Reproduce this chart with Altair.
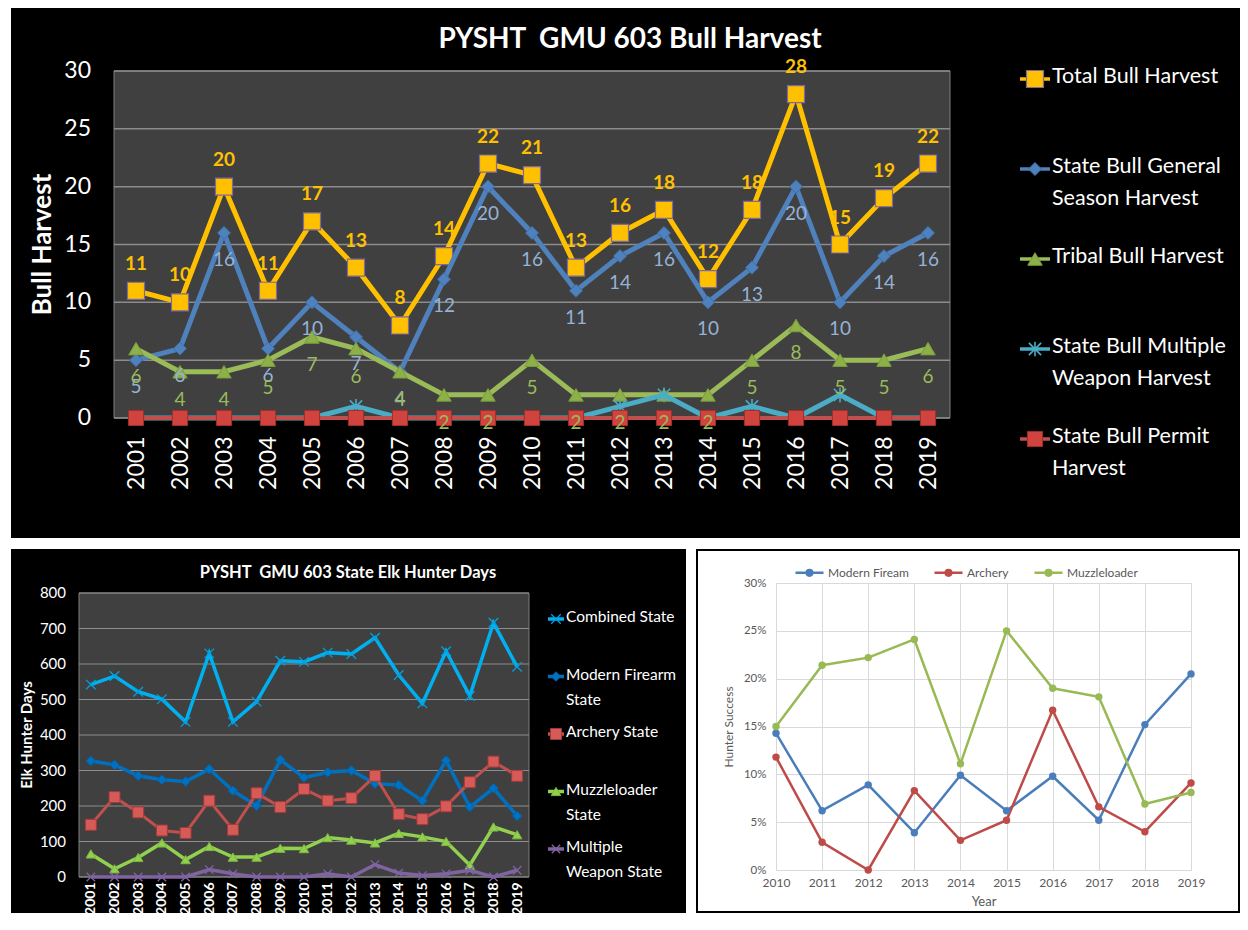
import altair as alt
import pandas as pd

FONT = "Lato"

# ---------------- data: top chart (Bull Harvest) ----------------
years = [2001, 2002, 2003, 2004, 2005, 2006, 2007, 2008, 2009, 2010,
         2011, 2012, 2013, 2014, 2015, 2016, 2017, 2018, 2019]
harvest_series = ["Total Bull Harvest", "State Bull General Season Harvest",
                  "Tribal Bull Harvest", "State Bull Multiple Weapon Harvest",
                  "State Bull Permit Harvest"]
harvest_legend_labels = ["Total Bull Harvest", "State Bull General\nSeason Harvest",
                         "Tribal Bull Harvest", "State Bull Multiple\nWeapon Harvest",
                         "State Bull Permit\nHarvest"]
total_bull = [11, 10, 20, 11, 17, 13, 8, 14, 22, 21, 13, 16, 18, 12, 18, 28, 15, 19, 22]
general_bull = [5, 6, 16, 6, 10, 7, 4, 12, 20, 16, 11, 14, 16, 10, 13, 20, 10, 14, 16]
tribal_bull = [6, 4, 4, 5, 7, 6, 4, 2, 2, 5, 2, 2, 2, 2, 5, 8, 5, 5, 6]
multiple_bull = [0, 0, 0, 0, 0, 1, 0, 0, 0, 0, 0, 1, 2, 0, 1, 0, 2, 0, 0]
permit_bull = [0, 0, 0, 0, 0, 0, 0, 0, 0, 0, 0, 0, 0, 0, 0, 0, 0, 0, 0]
harvest_ticks = [0, 5, 10, 15, 20, 25, 30]

# ---------------- data: bottom-left chart (Elk Hunter Days) ----------------
days_series = ["Combined State", "Modern Firearm State", "Archery State",
               "Muzzleloader State", "Multiple Weapon State"]
days_legend_labels = ["Combined State", "Modern Firearm\nState", "Archery State",
                      "Muzzleloader\nState", "Multiple\nWeapon State"]
combined_days = [542, 566, 522, 501, 437, 630, 437, 494, 609, 606, 632, 628, 674, 569, 489, 636, 510, 716, 592]
modern_days = [327, 316, 285, 274, 269, 304, 243, 201, 330, 280, 295, 300, 263, 259, 215, 328, 197, 250, 172]
archery_days = [147, 225, 182, 131, 124, 215, 133, 236, 197, 248, 215, 222, 285, 177, 163, 199, 267, 325, 285]
muzzle_days = [65, 23, 55, 96, 49, 86, 56, 56, 81, 80, 111, 104, 96, 123, 113, 100, 33, 141, 119]
multiple_days = [0, 0, 0, 0, 0, 21, 9, 0, 0, 0, 9, 0, 35, 11, 4, 9, 19, 0, 19]
days_ticks = [0, 100, 200, 300, 400, 500, 600, 700, 800]

# ---------------- data: bottom-right chart (Hunter Success) ----------------
success_years = [2010, 2011, 2012, 2013, 2014, 2015, 2016, 2017, 2018, 2019]
success_series = ["Modern Fiream", "Archery", "Muzzleloader"]
success_modern = [14.3, 6.2, 8.9, 3.9, 9.9, 6.2, 9.8, 5.2, 15.2, 20.5]
success_archery = [11.8, 2.9, 0.0, 8.3, 3.1, 5.2, 16.7, 6.6, 4.0, 9.1]
success_muzzle = [15.0, 21.4, 22.2, 24.1, 11.1, 25.0, 19.0, 18.1, 6.9, 8.1]
success_ticks = [0, 5, 10, 15, 20, 25, 30]

# ---------------- styles ----------------
ASTER = "M-1,-1L1,1M-1,1L1,-1M0,-1.2L0,1.2"
XMARK = "M-1,-1L1,1M-1,1L1,-1"
harvest_styles = [
    dict(line="#FFC000", lw=5, shape="square", size=290, fill="#FFC000", mstroke="#7F6A9A", msw=1.2),
    dict(line="#4F81BD", lw=5, shape="diamond", size=170, fill="#4F81BD", mstroke="#3C6DA8", msw=1),
    dict(line="#9BBB59", lw=5, shape="triangle-up", size=210, fill="#8DB048", mstroke="#7A9C3C", msw=1),
    dict(line="#4BACC6", lw=5, shape=ASTER, size=150, fill=None, mstroke="#4BACC6", msw=1.6),
    dict(line="#C0504D", lw=4, shape="square", size=230, fill="#D0433F", mstroke="#9E2F2C", msw=1),
]
days_styles = [
    dict(line="#00B0F0", lw=3.5, shape=XMARK, size=90, fill=None, mstroke="#00A0E0", msw=1.3),
    dict(line="#0070C0", lw=3.5, shape="diamond", size=90, fill="#0070C0", mstroke="#0062AA", msw=1),
    dict(line="#C0504D", lw=3, shape="square", size=120, fill="#D65B58", mstroke="#A23B39", msw=1),
    dict(line="#92D050", lw=3.5, shape="triangle-up", size=90, fill="#92D050", mstroke="#7DB83D", msw=1),
    dict(line="#8064A2", lw=3.5, shape=XMARK, size=70, fill=None, mstroke="#8064A2", msw=1.3),
]
success_colors = ["#4A7EBB", "#BE4B48", "#98B954"]

one = pd.DataFrame({"k": [0]})


def long_df(xs, names, arrays):
    rows = []
    for name, arr in zip(names, arrays):
        for x, v in zip(xs, arr):
            rows.append({"year": x, "series": name, "value": v})
    return pd.DataFrame(rows)


def marker_kw(st):
    kw = dict(shape=st["shape"], size=st["size"], opacity=1, strokeWidth=st["msw"])
    if st["fill"]:
        kw.update(filled=True, fill=st["fill"], stroke=st["mstroke"])
    else:
        kw.update(filled=False, stroke=st["mstroke"])
    return kw


def box(color, x0, x1, y0, y1, **kw):
    return alt.Chart(one).mark_rect(color=color, **kw).encode(
        x=alt.value(x0), x2=alt.value(x1), y=alt.value(y0), y2=alt.value(y1))


def free_text(txt, x, y, size, weight="bold", angle=0):
    return alt.Chart(one).mark_text(font=FONT, fontSize=size, fontWeight=weight, color="white",
                                    align="center", baseline="middle", angle=angle).encode(
        x=alt.value(x), y=alt.value(y), text=alt.value(txt))


def y_labels(ticks, scale, x, size):
    return alt.Chart(pd.DataFrame({"tick": ticks})).mark_text(
        font=FONT, fontSize=size, color="white", align="right", baseline="middle").encode(
        x=alt.value(x), y=alt.Y("tick:Q", scale=scale, axis=None), text="tick:Q")


def grid_rules(ticks, scale, x0, x1, color, width):
    return alt.Chart(pd.DataFrame({"tick": ticks})).mark_rule(color=color, strokeWidth=width).encode(
        x=alt.value(x0), x2=alt.value(x1), y=alt.Y("tick:Q", scale=scale, axis=None))


def manual_legend(labels, styles, y0, step, x0, x1, tx, fsize, lh, dy):
    layers = []
    for i, (lab, st) in enumerate(zip(labels, styles)):
        yy = y0 + i * step
        layers.append(alt.Chart(one).mark_rule(color=st["line"], strokeWidth=3.5).encode(
            x=alt.value(x0), x2=alt.value(x1), y=alt.value(yy)))
        layers.append(alt.Chart(one).mark_point(**marker_kw(st)).encode(
            x=alt.value((x0 + x1) / 2), y=alt.value(yy)))
        layers.append(alt.Chart(one).mark_text(font=FONT, fontSize=fsize, color="white", align="left",
                                               baseline="top", dy=dy, lineBreak="\n", lineHeight=lh).encode(
            x=alt.value(tx), y=alt.value(yy), text=alt.value(lab)))
    return layers


# ================= TOP PANEL =================
# group origin shared with the bottom-left panel; plot area spans x 35..871
W1, H1 = 871, 347
PX0 = 35
df1 = long_df(years, harvest_series, [total_bull, general_bull, tribal_bull, multiple_bull, permit_bull])
x1 = alt.X("year:O", scale=alt.Scale(type="point", padding=0.5, range=[PX0, W1]),
           axis=alt.Axis(title=None, labelAngle=270, labelColor="white", labelFont=FONT, labelFontSize=23,
                         labelPadding=18, ticks=False, tickSize=0, domain=False, grid=False, zindex=1))
ys1 = alt.Scale(domain=[0, 30], nice=False, zero=True)
y1 = alt.Y("value:Q", scale=ys1, axis=None)

top_layers = [box("black", -68, 1161, -63, H1 + 120),
              free_text("PYSHT\u00a0 GMU 603 Bull Harvest", 551, -31, 28),
              box("#404040", PX0, W1, 0, H1, stroke="#7f7f7f", strokeWidth=1),
              grid_rules(harvest_ticks, ys1, PX0, W1, "#8c8c8c", 1.5),
              y_labels(harvest_ticks, ys1, PX0 - 23, 23),
              free_text("Bull Harvest", -36, H1 / 2, 26, angle=270)]
for name, st in zip(harvest_series, harvest_styles):
    base = alt.Chart(df1).transform_filter(alt.datum.series == name)
    top_layers.append(base.mark_line(color=st["line"], strokeWidth=st["lw"]).encode(x=x1, y=y1))
    top_layers.append(base.mark_point(**marker_kw(st)).encode(x=x1, y=y1))
label_specs = [("Total Bull Harvest", "#FFC000", -27, "bold"),
               ("State Bull General Season Harvest", "#95B3D7", 27, "normal"),
               ("Tribal Bull Harvest", "#9BBB59", 28, "normal")]
for name, c, dy, w in label_specs:
    top_layers.append(alt.Chart(df1).transform_filter(alt.datum.series == name).mark_text(
        font=FONT, fontSize=19, fontWeight=w, color=c, dy=dy, align="center", baseline="middle")
        .encode(x=x1, y=y1, text="value:Q"))
top_layers += manual_legend(harvest_legend_labels, harvest_styles, 8, 90, 941, 971, 973, 21.5, 32, -13)
top = alt.layer(*top_layers).properties(width=W1, height=H1)

# ================= BOTTOM-LEFT PANEL =================
# group origin shared with the bottom-right panel; plot area spans y 10..294
W2, H2 = 450, 294
PY0 = 10
df2 = long_df(years, days_series, [combined_days, modern_days, archery_days, muzzle_days, multiple_days])
x2 = alt.X("year:O", scale=alt.Scale(type="point", padding=0.5),
           axis=alt.Axis(title=None, labelAngle=270, labelColor="white", labelFont=FONT, labelFontSize=14,
                         labelFontWeight="bold", labelPadding=5, ticks=False, tickSize=0, domain=False,
                         grid=False, zindex=1))
ys2 = alt.Scale(domain=[0, 800], nice=False, zero=True, range=[H2, PY0])
y2 = alt.Y("value:Q", scale=ys2, axis=None)
bl_layers = [box("black", -68, 607, -34, 330),
             free_text("PYSHT\u00a0 GMU 603 State Elk Hunter Days", 269, -10, 16.5),
             box("#404040", 0, W2, PY0, H2, stroke="#7f7f7f", strokeWidth=1),
             grid_rules(days_ticks, ys2, 0, W2, "#8c8c8c", 1),
             y_labels(days_ticks, ys2, -13, 15),
             free_text("Elk Hunter Days", -52, (H2 + PY0) / 2, 15, angle=270)]
for name, st in zip(days_series, days_styles):
    base = alt.Chart(df2).transform_filter(alt.datum.series == name)
    bl_layers.append(base.mark_line(color=st["line"], strokeWidth=st["lw"]).encode(x=x2, y=y2))
    bl_layers.append(base.mark_point(**marker_kw(st)).encode(x=x2, y=y2))
bl_layers += manual_legend(days_legend_labels, days_styles, 36, 57.5, 469, 485, 487, 15.5, 25, -9)
bl = alt.layer(*bl_layers).properties(width=W2, height=H2)

# ================= BOTTOM-RIGHT PANEL =================
W3, H3 = 415, 287
df3 = long_df(success_years, success_series, [success_modern, success_archery, success_muzzle])
LEGSYM = ("M-1,0H1M0.2,0A0.2,0.2,0,1,1,-0.2,0A0.2,0.2,0,1,1,0.2,0"
          "M0.09,0A0.09,0.09,0,1,1,-0.09,0A0.09,0.09,0,1,1,0.09,0")
x3 = alt.X("year:O", scale=alt.Scale(type="point", padding=0),
           axis=alt.Axis(title="Year", labelAngle=0, grid=True, gridColor="#d9d9d9", domain=False, ticks=False,
                         tickSize=0, labelColor="#595959", labelFont=FONT, labelFontSize=12, labelPadding=7,
                         titleColor="#595959", titleFont=FONT, titleFontSize=13, titleFontWeight="normal",
                         titlePadding=7))
y3 = alt.Y("value:Q", scale=alt.Scale(domain=[0, 30], nice=False, zero=True),
           axis=alt.Axis(values=success_ticks, labelExpr="datum.value + '%'", title="Hunter Success",
                         grid=True, gridColor="#d9d9d9", domain=False, ticks=False, tickSize=0,
                         labelColor="#595959", labelFont=FONT, labelFontSize=11.5, labelPadding=10,
                         titleColor="#595959", titleFont=FONT, titleFontSize=12, titleFontWeight="normal",
                         titleX=-48, titleY=H3 / 2, titleBaseline="middle"))
col3 = alt.Color("series:N", scale=alt.Scale(domain=success_series, range=success_colors),
                 legend=alt.Legend(title=None, orient="none", legendX=18, legendY=-26, direction="horizontal",
                                   symbolType=LEGSYM, symbolSize=784, symbolStrokeWidth=2.5,
                                   labelFont=FONT, labelFontSize=12, labelColor="#595959", labelOffset=3,
                                   columnPadding=20))
col3b = alt.Color("series:N", scale=alt.Scale(domain=success_series, range=success_colors), legend=None)
br = alt.layer(
    alt.Chart(df3).mark_line(strokeWidth=2.5).encode(x=x3, y=y3, color=col3),
    alt.Chart(df3).mark_point(filled=True, size=55, opacity=1).encode(x=x3, y=y3, color=col3b),
    box("transparent", -79, 463, -33, 329, stroke="black", strokeWidth=2),
).properties(width=W3, height=H3)

bottom = alt.hconcat(bl, br, spacing=10).resolve_scale(
    color="independent").resolve_legend(color="independent")
chart = alt.vconcat(top, bottom, spacing=11).resolve_scale(
    color="independent").resolve_legend(color="independent").properties(
    padding={"left": 3, "top": 0, "right": 0, "bottom": 0}, background="white"
).configure_view(strokeWidth=0)

chart.save("out.html", embed_options={"renderer": "svg", "actions": False})
